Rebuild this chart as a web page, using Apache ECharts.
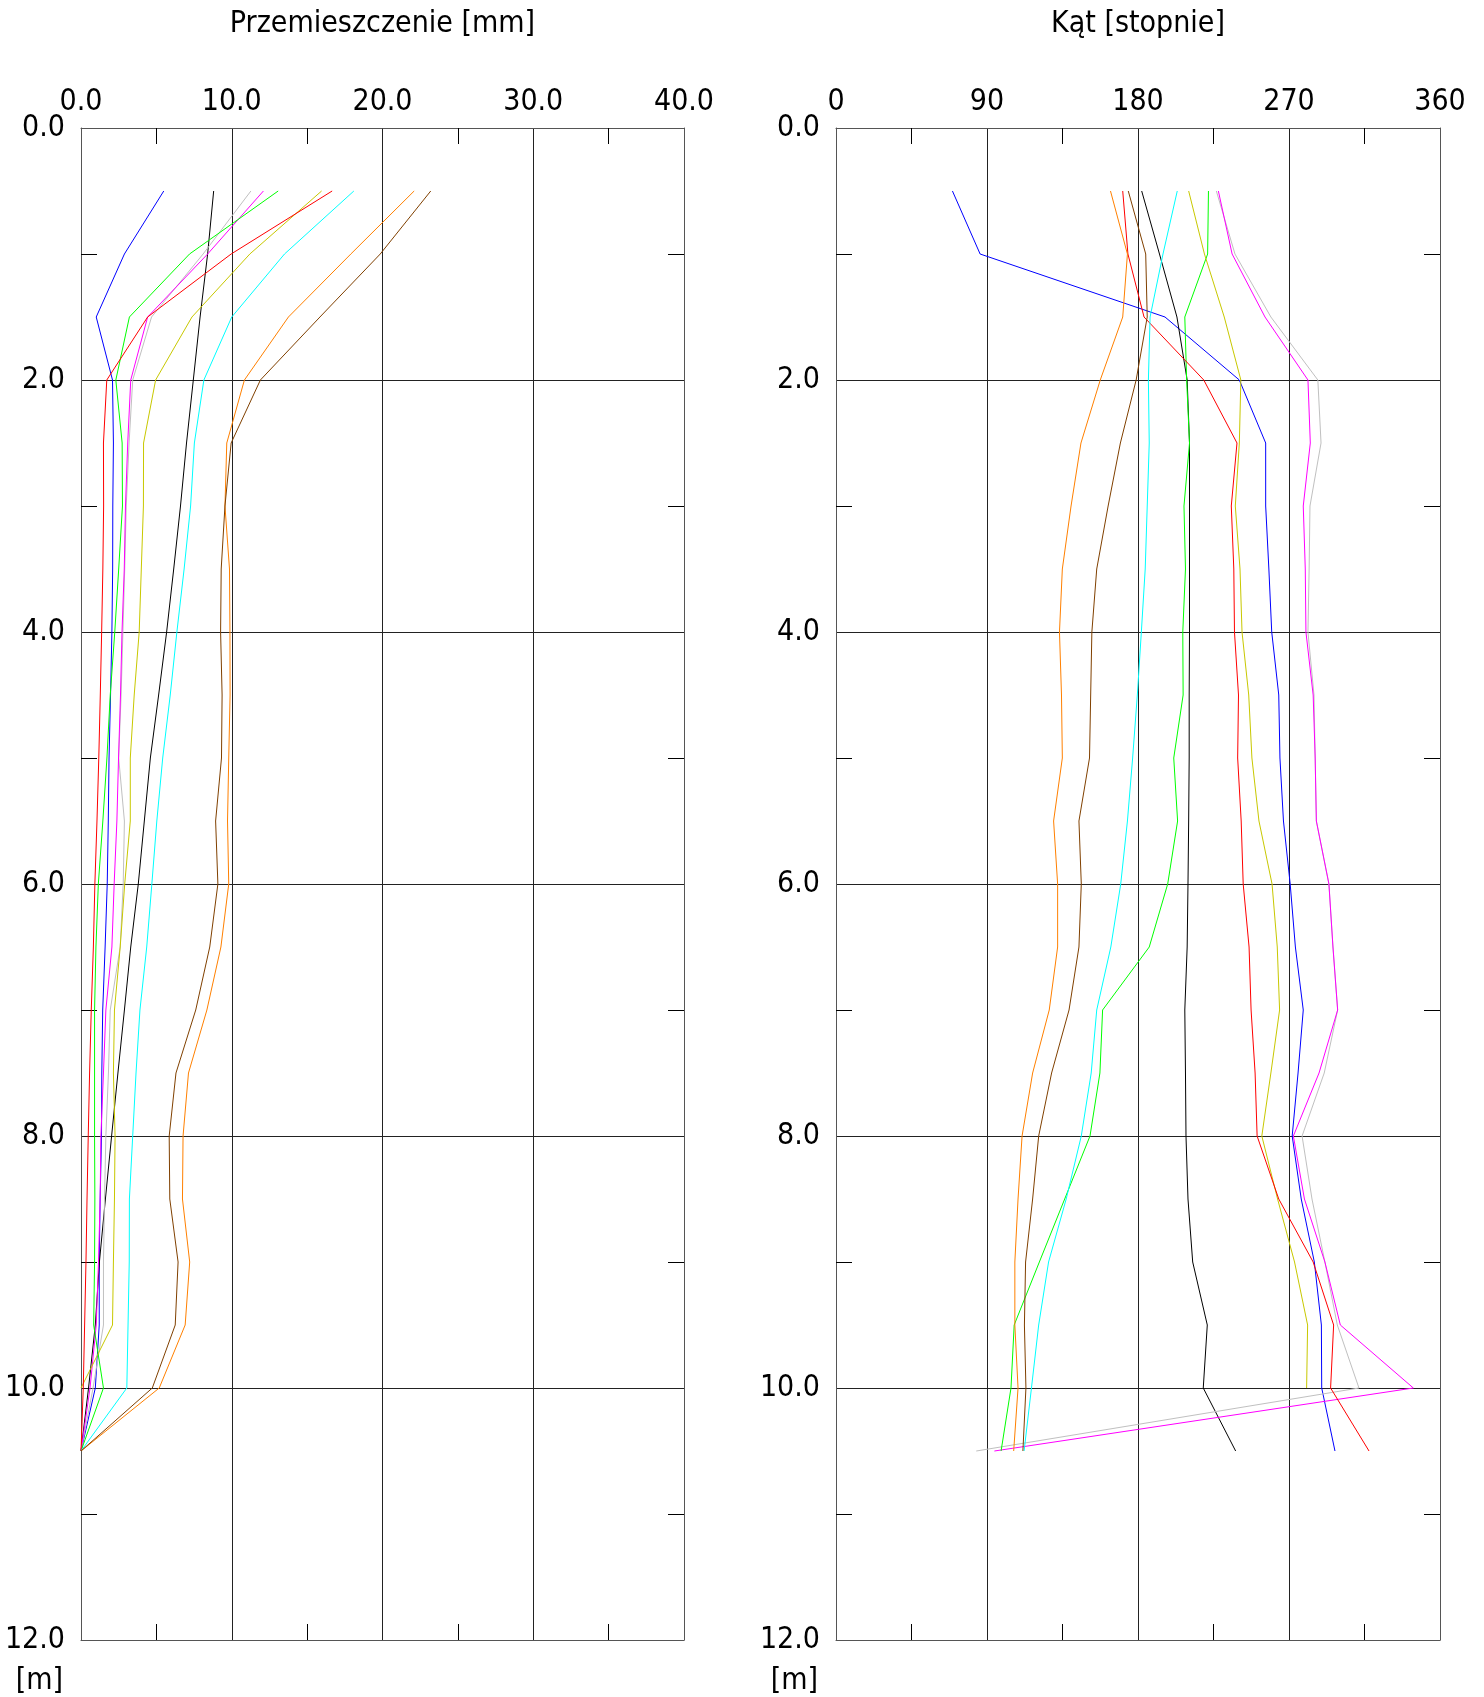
<!DOCTYPE html>
<html>
<head>
<meta charset="utf-8">
<script src="https://cdn.jsdelivr.net/npm/echarts@6/dist/echarts.min.js"></script>
<style>
html,body{margin:0;padding:0;background:#fff;}
#chart{width:1484px;height:1697px;}
</style>
</head>
<body>
<div id="chart"></div>
<script>
// Depths [m]
const depths = [0.5,1.0,1.5,2.0,2.5,3.0,3.5,4.0,4.5,5.0,5.5,6.0,6.5,7.0,7.5,8.0,8.5,9.0,9.5,10.0,10.5];

// Series names and colours
const seriesNames = ['S1','S2','S3','S4','S5','S6','S7','S8','S9','S10'];
const seriesColors = ['#0000ff','#000000','#c0c0c0','#ff00ff','#00ff00','#c8c800','#ff0000','#00ffff','#ff8000','#804000'];

// Displacement [mm]
const dispBlue    = [5.49,2.88,1.01,2.09,2.15,2.11,2.10,2.05,1.96,1.86,1.81,1.74,1.60,1.44,1.38,1.36,1.27,1.21,1.21,0.95,0];
const dispBlack   = [8.80,8.40,7.90,7.45,7.00,6.60,6.15,5.68,5.15,4.60,4.20,3.80,3.30,2.88,2.45,2.03,1.62,1.22,0.95,0.50,0];
const dispGray    = [11.27,8.10,4.68,3.43,3.19,3.00,2.90,2.78,2.66,2.50,2.88,2.80,2.60,1.94,1.82,1.65,1.56,1.49,1.49,0.80,0];
const dispMagenta = [12.10,8.40,4.42,3.30,3.10,2.95,2.87,2.72,2.62,2.49,2.38,2.20,2.05,1.65,1.49,1.32,1.27,1.16,1.01,0.60,0];
const dispGreen   = [13.08,7.20,3.21,2.31,2.73,2.75,2.50,2.24,1.94,1.72,1.45,1.15,0.99,0.90,0.90,0.90,0.92,0.90,0.84,1.49,0];
const dispYellow  = [15.96,11.20,7.36,4.95,4.15,4.14,4.00,3.86,3.53,3.27,3.27,2.90,2.60,2.22,2.15,2.26,2.22,2.15,2.09,0,null];
const dispRed     = [16.66,9.96,4.42,1.71,1.49,1.50,1.45,1.37,1.28,1.18,1.06,0.92,0.82,0.68,0.57,0.48,0.40,0.33,0.24,0.15,0];
const dispCyan    = [18.10,13.50,10.00,8.15,7.52,7.27,6.84,6.36,5.92,5.42,5.03,4.70,4.36,3.91,3.65,3.43,3.21,3.20,3.12,3.04,0];
const dispOrange  = [22.10,17.90,13.76,10.84,9.67,9.55,9.85,9.88,9.89,9.80,9.72,9.80,9.28,8.35,7.13,6.77,6.73,7.21,6.91,5.19,0];
const dispBrown   = [23.20,19.85,15.85,11.90,9.96,9.55,9.30,9.26,9.36,9.32,8.93,9.08,8.54,7.61,6.30,5.85,5.89,6.44,6.25,4.73,0];

// Angle [degrees]
const angBlue    = [69.4,85.9,196.1,240.4,256.1,256.1,258.0,259.7,263.9,264.6,266.7,270.7,273.8,278.5,275.4,271.9,277.3,285.1,289.3,289.5,297.4];
const angBlack   = [182.2,192.8,203.2,209.3,210.7,210.7,210.7,210.7,210.5,210.5,210.2,209.8,209.3,207.9,208.3,208.6,209.8,212.6,221.3,218.9,238.2];
const angGray    = [226.7,237.8,259.2,287.2,289.1,282.5,282.0,281.3,284.9,285.6,286.3,293.8,296.2,299.0,291.0,277.8,283.7,291.4,298.8,311.7,83.6];
const angMagenta = [227.9,236.1,255.7,281.3,282.7,278.5,279.7,280.1,284.4,285.6,286.3,293.8,296.2,299.0,287.9,272.6,279.2,291.4,300.6,344.1,94.4];
const angGreen   = [222.0,221.5,207.9,209.0,210.7,207.4,208.3,206.7,206.9,201.3,203.6,197.7,186.7,158.9,157.3,151.4,136.3,121.2,106.2,104.3,98.4];
const angYellow  = [210.2,219.6,231.4,241.3,240.4,238.0,240.8,242.0,246.0,247.9,252.1,259.9,263.0,264.4,259.2,253.8,263.2,273.3,281.1,280.5,null];
const angRed     = [170.9,174.0,183.6,219.2,239.0,235.6,237.1,237.5,239.9,239.4,241.5,242.7,246.2,247.4,249.8,251.0,263.9,284.4,296.6,294.8,317.7];
const angCyan    = [203.4,194.9,187.2,186.2,186.7,185.5,184.3,182.0,179.6,176.8,173.7,169.7,163.8,155.4,152.1,146.2,137.2,126.7,120.8,116.5,112.1];
const angOrange  = [163.6,173.7,170.9,157.5,146.0,140.1,134.9,133.2,134.4,134.9,129.7,132.1,132.1,127.1,117.2,110.9,108.5,106.6,106.6,108.5,105.9];
const angBrown   = [174.2,184.6,185.5,178.9,169.5,162.2,155.4,152.5,151.8,151.1,144.8,146.2,144.8,138.9,128.5,120.8,117.2,113.0,112.3,113.2,111.4];

const dispSeries = [dispBlue,dispBlack,dispGray,dispMagenta,dispGreen,dispYellow,dispRed,dispCyan,dispOrange,dispBrown];
const angSeries  = [angBlue,angBlack,angGray,angMagenta,angGreen,angYellow,angRed,angCyan,angOrange,angBrown];

// Axis texts
const dispTitle = 'Przemieszczenie [mm]';
const angTitle = 'Kąt [stopnie]';
const depthUnit = '[m]';

const FONT = "'DejaVu Sans Condensed', 'DejaVu Sans'";
const FS = 30;
const frameColor = '#555';
const gridColor = '#222';

function topX(gridIndex, min, max, interval, name, fmt) {
  return {
    type: 'value', gridIndex, position: 'top', min, max, interval,
    name, nameLocation: 'middle', nameGap: 89,
    nameTextStyle: {fontFamily: FONT, fontSize: FS, color: '#000'},
    axisLine: {show: true, onZero: false, lineStyle: {color: frameColor, width: 1}},
    axisTick: {show: false, inside: true},
    minorTick: {show: true, splitNumber: 2, length: 16, lineStyle: {color: '#000', width: 1}},
    axisLabel: {show: true, margin: 11, fontFamily: FONT, fontSize: FS, color: '#000', formatter: fmt},
    splitLine: {show: true, lineStyle: {color: gridColor, width: 1}},
    minorSplitLine: {show: false}
  };
}
function bottomX(gridIndex, min, max, interval) {
  return {
    type: 'value', gridIndex, position: 'bottom', min, max, interval,
    axisLine: {show: true, onZero: false, lineStyle: {color: frameColor, width: 1}},
    axisTick: {show: false, inside: true},
    minorTick: {show: true, splitNumber: 2, length: 16, lineStyle: {color: '#000', width: 1}},
    axisLabel: {show: false},
    splitLine: {show: false}
  };
}
function leftY(gridIndex) {
  return {
    type: 'value', gridIndex, position: 'left', inverse: true, min: 0, max: 12, interval: 2,
    name: depthUnit, nameLocation: 'end', nameGap: 26,
    nameTextStyle: {fontFamily: FONT, fontSize: FS, color: '#000', align: 'right', verticalAlign: 'top', padding: [0, 18, 0, 0]},
    axisLine: {show: true, onZero: false, lineStyle: {color: frameColor, width: 1}},
    axisTick: {show: false, inside: true},
    minorTick: {show: true, splitNumber: 2, length: 16, lineStyle: {color: '#000', width: 1}},
    axisLabel: {show: true, margin: 16, fontFamily: FONT, fontSize: FS, color: '#000', formatter: v => v.toFixed(1)},
    splitLine: {show: true, lineStyle: {color: gridColor, width: 1}}
  };
}
function rightY(gridIndex) {
  return {
    type: 'value', gridIndex, position: 'right', inverse: true, min: 0, max: 12, interval: 2,
    axisLine: {show: true, onZero: false, lineStyle: {color: frameColor, width: 1}},
    axisTick: {show: false, inside: true},
    minorTick: {show: true, splitNumber: 2, length: 16, lineStyle: {color: '#000', width: 1}},
    axisLabel: {show: false},
    splitLine: {show: false}
  };
}

const series = [];
dispSeries.forEach((arr, i) => {
  series.push({
    type: 'line', name: seriesNames[i], xAxisIndex: 0, yAxisIndex: 0,
    data: depths.map((d, j) => [arr[j], d]).filter(p => p[0] !== null),
    showSymbol: false, symbol: 'none', silent: true,
    lineStyle: {color: seriesColors[i], width: 1}, itemStyle: {color: seriesColors[i]}
  });
});
angSeries.forEach((arr, i) => {
  series.push({
    type: 'line', name: seriesNames[i], xAxisIndex: 2, yAxisIndex: 2,
    data: depths.map((d, j) => [arr[j], d]).filter(p => p[0] !== null),
    showSymbol: false, symbol: 'none', silent: true,
    lineStyle: {color: seriesColors[i], width: 1}, itemStyle: {color: seriesColors[i]}
  });
});

const chart = echarts.init(document.getElementById('chart'), null, {renderer: 'canvas'});
chart.setOption({
  backgroundColor: '#fff',
  animation: false,
  grid: [
    {left: 81, top: 128, width: 603, height: 1512},
    {left: 836, top: 128, width: 604, height: 1512}
  ],
  xAxis: [
    topX(0, 0, 40, 10, dispTitle, v => v.toFixed(1)),
    bottomX(0, 0, 40, 10),
    topX(1, 0, 360, 90, angTitle, v => String(v)),
    bottomX(1, 0, 360, 90)
  ],
  yAxis: [leftY(0), rightY(0), leftY(1), rightY(1)],
  series
});
</script>
</body>
</html>
